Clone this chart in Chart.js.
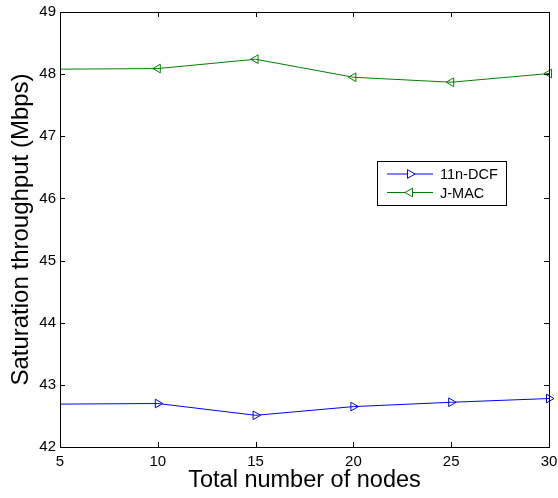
<!DOCTYPE html>
<html>
<head>
<meta charset="utf-8">
<script src="https://cdn.jsdelivr.net/npm/chart.js@4.4.1/dist/chart.umd.min.js"></script>
<style>
  html, body { margin: 0; padding: 0; background: #fff; }
</style>
</head>
<body>
<canvas id="throughputChart" width="558" height="498"></canvas>
<script>
const nodes = [5, 10, 15, 20, 25, 30];
const dcfValues = [42.69, 42.70, 42.51, 42.65, 42.72, 42.78];
const jmacValues = [48.08, 48.09, 48.24, 47.95, 47.87, 48.01];
const xTicks = [5, 10, 15, 20, 25, 30];
const yTicks = [42, 43, 44, 45, 46, 47, 48, 49];
const seriesNames = ["11n-DCF", "J-MAC"];

const FONT = "'Liberation Sans', Arial, sans-serif";

// matlab style box, inward ticks and legend
const matlabBox = {
    id: "matlabBox",
    afterDraw(chart) {
        const { ctx, chartArea: a, scales } = chart;
        ctx.save();
        ctx.strokeStyle = "#000";
        ctx.lineWidth = 1;
        ctx.beginPath();
        xTicks.forEach((v) => {
            const x = Math.round(scales.x.getPixelForValue(v)) + 0.5;
            ctx.moveTo(x, a.bottom); ctx.lineTo(x, a.bottom - 5);
            ctx.moveTo(x, a.top); ctx.lineTo(x, a.top + 5);
        });
        yTicks.forEach((v) => {
            const y = Math.round(scales.y.getPixelForValue(v)) + 0.5;
            ctx.moveTo(a.left, y); ctx.lineTo(a.left + 5, y);
            ctx.moveTo(a.right, y); ctx.lineTo(a.right - 5, y);
        });
        ctx.stroke();
        ctx.strokeRect(Math.round(a.left) + 0.5, Math.round(a.top) + 0.5,
            Math.round(a.right - a.left), Math.round(a.bottom - a.top));

        // legend
        const lx = 377, ly = 161, lw = 129, lh = 44;
        ctx.fillStyle = "#fff";
        ctx.fillRect(lx, ly, lw, lh);
        ctx.strokeStyle = "#000";
        ctx.strokeRect(lx + 0.5, ly + 0.5, lw, lh);
        ctx.font = "14.5px " + FONT;
        ctx.textBaseline = "middle";
        chart.data.datasets.forEach((ds, i) => {
            const y = ly + 13 + i * 18.5;
            ctx.strokeStyle = ds.borderColor;
            ctx.lineWidth = 1;
            ctx.beginPath();
            ctx.moveTo(387, y); ctx.lineTo(433, y);
            ctx.stroke();
            ctx.fillStyle = "#fff";
            Chart.helpers.drawPoint(ctx, {
                pointStyle: "triangle",
                rotation: ds.pointRotation,
                radius: 5,
                borderWidth: 1
            }, 410, y);
            ctx.fillStyle = "#000";
            ctx.fillText(ds.label, 440, y + 1);
        });
        ctx.restore();
    }
};

const ctx = document.getElementById("throughputChart").getContext("2d");
const throughputChart = new Chart(ctx, {
    type: "line",
    data: {
        datasets: [
            {
                label: seriesNames[0],
                data: nodes.map((n, i) => ({ x: n, y: dcfValues[i] })),
                borderColor: "#0000ff",
                backgroundColor: "rgba(0,0,0,0)",
                borderWidth: 1,
                pointStyle: "triangle",
                pointRotation: 90,
                pointRadius: [0, 5, 5, 5, 5, 5],
                pointBorderColor: "#0000ff",
                pointBackgroundColor: "rgba(0,0,0,0)",
                tension: 0,
                clip: false,
            },
            {
                label: seriesNames[1],
                data: nodes.map((n, i) => ({ x: n, y: jmacValues[i] })),
                borderColor: "#008000",
                backgroundColor: "rgba(0,0,0,0)",
                borderWidth: 1,
                pointStyle: "triangle",
                pointRotation: 270,
                pointRadius: [0, 5, 5, 5, 5, 5],
                pointBorderColor: "#008000",
                pointBackgroundColor: "rgba(0,0,0,0)",
                tension: 0,
                clip: false,
            },
        ],
    },
    options: {
        responsive: false,
        animation: false,
        devicePixelRatio: 1,
        layout: { padding: { top: 12, right: 9, left: 0, bottom: 0 } },
        plugins: {
            legend: { display: false },
            tooltip: { enabled: false },
        },
        scales: {
            x: {
                type: "linear",
                min: 5,
                max: 30,
                afterBuildTicks: (s) => { s.ticks = xTicks.map((v) => ({ value: v })); },
                afterFit: (s) => { s.height = 51; s.paddingLeft = 0; s.paddingRight = 0; },
                grid: { display: false, drawTicks: false },
                border: { display: true, color: "#000", width: 1 },
                ticks: { color: "#000", font: { family: FONT, size: 15 }, padding: 6, maxRotation: 0 },
                title: {
                    display: true,
                    text: "Total number of nodes",
                    color: "#000",
                    font: { family: FONT, size: 23.5 },
                    padding: { top: 0, bottom: 3 },
                },
            },
            y: {
                type: "linear",
                min: 42,
                max: 49,
                afterBuildTicks: (s) => { s.ticks = yTicks.map((v) => ({ value: v })); },
                afterFit: (s) => { s.width = 60; s.paddingTop = 0; s.paddingBottom = 0; },
                grid: { display: false, drawTicks: false },
                border: { display: true, color: "#000", width: 1 },
                ticks: { color: "#000", font: { family: FONT, size: 15 }, padding: 4 },
                title: {
                    display: true,
                    text: "Saturation throughput (Mbps)",
                    color: "#000",
                    font: { family: FONT, size: 24 },
                    padding: { top: 7, bottom: 0 },
                },
            },
        },
    },
    plugins: [matlabBox],
});
</script>
</body>
</html>
